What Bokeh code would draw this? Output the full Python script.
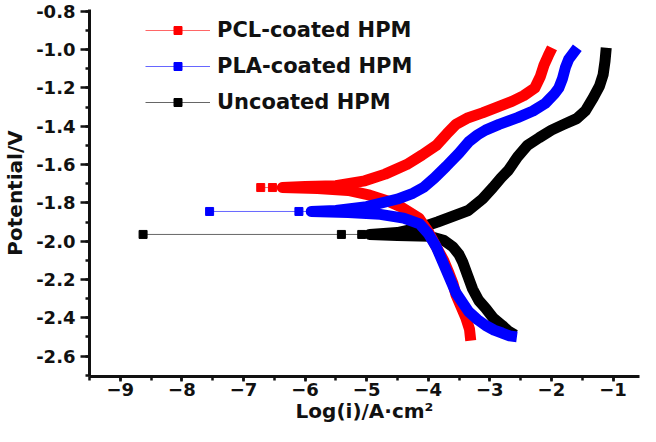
from bokeh.plotting import figure
from bokeh.models import Range1d, SingleIntervalTicker, PrintfTickFormatter, Legend, LegendItem
from bokeh.embed import file_html
from bokeh.resources import INLINE

# ---------------- data ----------------
series_names = ["Uncoated HPM", "PCL-coated HPM", "PLA-coated HPM"]
series_colors = ["#000000", "#ff0000", "#0000ff"]

# sparse points near the corrosion potential (log i, E)
unc_sparse_x = [-8.63, -5.41, -5.08]
unc_sparse_y = [-1.965, -1.965, -1.965]
pcl_sparse_x = [-6.72, -6.53]
pcl_sparse_y = [-1.72, -1.72]
pla_sparse_x = [-7.55, -6.10]
pla_sparse_y = [-1.845, -1.845]

# anodic branches (from Ecorr upward)
unc_anod_x = [-4.95, -4.5, -4.08, -3.85, -3.6, -3.35, -3.12, -2.95, -2.82, -2.70, -2.55, -2.39,
              -2.2, -2.0, -1.8, -1.59, -1.45, -1.32, -1.22, -1.16, -1.13, -1.11]
unc_anod_y = [-1.965, -1.955, -1.925, -1.90, -1.87, -1.84, -1.78, -1.72, -1.67, -1.63, -1.56, -1.50,
              -1.46, -1.42, -1.39, -1.36, -1.32, -1.25, -1.19, -1.13, -1.06, -0.99]
pcl_anod_x = [-6.37, -6.0, -5.5, -5.03, -4.7, -4.35, -4.1, -3.87, -3.7, -3.55, -3.35, -3.12,
              -2.88, -2.64, -2.45, -2.27, -2.18, -2.12, -2.05, -1.99]
pcl_anod_y = [-1.72, -1.715, -1.71, -1.685, -1.65, -1.60, -1.55, -1.50, -1.44, -1.39, -1.355, -1.33,
              -1.30, -1.27, -1.24, -1.20, -1.14, -1.08, -1.03, -0.99]
pla_anod_x = [-5.9, -5.5, -5.0, -4.5, -4.25, -4.08, -3.9, -3.71, -3.5, -3.34, -3.2, -3.07,
              -2.85, -2.55, -2.3, -2.1, -1.95, -1.88, -1.82, -1.77, -1.72, -1.65, -1.58]
pla_anod_y = [-1.845, -1.84, -1.82, -1.78, -1.75, -1.72, -1.67, -1.61, -1.54, -1.48, -1.445, -1.42,
              -1.39, -1.355, -1.32, -1.28, -1.23, -1.20, -1.15, -1.09, -1.05, -1.02, -0.99]

# cathodic branches (from Ecorr downward)
unc_cath_x = [-4.95, -4.5, -3.98, -3.75, -3.6, -3.5, -3.44, -3.36, -3.28, -3.18, -3.07, -2.95,
              -2.80, -2.70, -2.59]
unc_cath_y = [-1.965, -1.97, -1.975, -1.995, -2.03, -2.07, -2.11, -2.18, -2.25, -2.31, -2.35, -2.40,
              -2.44, -2.47, -2.49]
pcl_cath_x = [-6.37, -5.8, -5.3, -4.95, -4.66, -4.45, -4.3, -4.15, -4.0, -3.87, -3.75, -3.66,
              -3.6, -3.55, -3.47, -3.39, -3.33, -3.31]
pcl_cath_y = [-1.72, -1.725, -1.735, -1.76, -1.79, -1.82, -1.85, -1.88, -1.95, -2.03, -2.10, -2.17,
              -2.22, -2.28, -2.34, -2.40, -2.46, -2.52]
pla_cath_x = [-5.9, -5.3, -4.78, -4.4, -4.14, -4.0, -3.87, -3.71, -3.55, -3.34, -3.2, -3.07,
              -2.93, -2.80, -2.68, -2.56]
pla_cath_y = [-1.845, -1.85, -1.86, -1.88, -1.91, -1.96, -2.03, -2.15, -2.27, -2.37, -2.41, -2.44,
              -2.465, -2.48, -2.495, -2.50]

x_ticks_interval = 1
y_ticks_interval = 0.2

# ---------------- figure ----------------
FONT = "DejaVu Sans"
p = figure(width=640, height=426, output_backend="svg", toolbar_location=None,
           x_range=Range1d(-9.5, -0.57), y_range=Range1d(-2.707, -0.79),
           min_border_left=79, min_border_right=1, min_border_top=9, min_border_bottom=50)
p.grid.visible = False
p.outline_line_color = None
p.background_fill_color = "white"
p.border_fill_color = "white"

series = [
    (unc_sparse_x, unc_sparse_y, unc_anod_x, unc_anod_y, unc_cath_x, unc_cath_y),
    (pcl_sparse_x, pcl_sparse_y, pcl_anod_x, pcl_anod_y, pcl_cath_x, pcl_cath_y),
    (pla_sparse_x, pla_sparse_y, pla_anod_x, pla_anod_y, pla_cath_x, pla_cath_y),
]

legend_map = {}
for name, color, (sx, sy, ax, ay, cx, cy) in zip(series_names, series_colors, series):
    thin = p.line(sx + [ax[0]], sy + [ay[0]], line_color=color, line_width=1, line_alpha=0.6)
    sq = p.scatter(sx, sy, marker="square", size=8, fill_color=color, line_color=color)
    dense_x = list(reversed(cx)) + ax[1:]
    dense_y = list(reversed(cy)) + ay[1:]
    p.line(dense_x, dense_y, line_color=color, line_width=11, line_join="round", line_cap="butt")
    legend_map[name] = [thin, sq]

legend = Legend(items=[LegendItem(label=n, renderers=legend_map[n])
                       for n in ["PCL-coated HPM", "PLA-coated HPM", "Uncoated HPM"]],
                location=(56, 262), orientation="vertical",
                glyph_width=65, glyph_height=20, label_height=20, spacing=12,
                padding=0, margin=0, label_standoff=7,
                label_text_font=FONT, label_text_font_style="bold",
                label_text_font_size="21px", label_text_color="#111111",
                border_line_color=None, background_fill_alpha=0)
p.add_layout(legend, "center")

# axes
p.xaxis.ticker = SingleIntervalTicker(interval=x_ticks_interval, num_minor_ticks=2)
p.yaxis.ticker = SingleIntervalTicker(interval=y_ticks_interval, num_minor_ticks=2)
p.yaxis.formatter = PrintfTickFormatter(format="%.1f")
p.xaxis.axis_label = "Log(i)/A·cm²"
p.yaxis.axis_label = "Potential/V"
for ax_ in (p.xaxis[0], p.yaxis[0]):
    ax_.axis_line_width = 3
    ax_.axis_line_color = "#111111"
    ax_.major_tick_line_width = 2.5
    ax_.minor_tick_line_width = 2.5
    ax_.major_tick_line_color = "#111111"
    ax_.minor_tick_line_color = "#111111"
    ax_.major_tick_in = 0
    ax_.minor_tick_in = 0
    ax_.minor_tick_out = 4
    ax_.major_label_text_font = FONT
    ax_.major_label_text_font_style = "bold"
    ax_.major_label_text_font_size = "18px"
    ax_.major_label_text_color = "#111111"
    ax_.axis_label_text_font = FONT
    ax_.axis_label_text_font_style = "bold"
    ax_.axis_label_text_font_size = "20px"
    ax_.axis_label_text_color = "#111111"
p.xaxis.major_tick_out = 5
p.yaxis.major_tick_out = 9
p.xaxis.major_label_standoff = 1
p.yaxis.major_label_standoff = 5
p.xaxis.axis_label_standoff = 0
p.yaxis.axis_label_standoff = 6

open("out.html", "w").write(file_html(p, INLINE))
